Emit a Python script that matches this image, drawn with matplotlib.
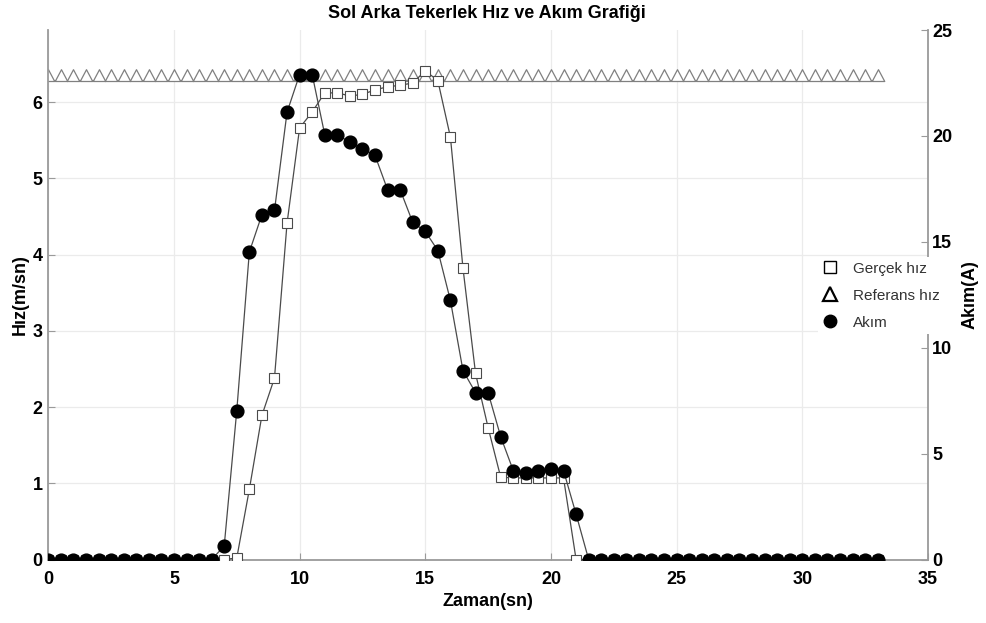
import numpy as np
import matplotlib
matplotlib.use("Agg")
import matplotlib.pyplot as plt
from matplotlib.lines import Line2D

plt.rcParams['font.family'] = ['Liberation Sans', 'DejaVu Sans']

# zaman ekseni (sn)
zaman = [0, 0.5, 1, 1.5, 2, 2.5, 3, 3.5, 4, 4.5, 5, 5.5, 6, 6.5,
         7, 7.5, 8, 8.5, 9, 9.5, 10, 10.5, 11, 11.5, 12, 12.5, 13, 13.5,
         14, 14.5, 15, 15.5, 16, 16.5, 17, 17.5, 18, 18.5, 19, 19.5, 20, 20.5,
         21, 21.5, 22, 22.5, 23, 23.5, 24, 24.5, 25, 25.5, 26, 26.5, 27, 27.5,
         28, 28.5, 29, 29.5, 30, 30.5, 31, 31.5, 32, 32.5, 33]

# gercek hiz (m/sn)
gercek = [0, 0, 0, 0, 0, 0, 0, 0, 0, 0, 0, 0, 0, 0,
          0.0, 0.02, 0.92, 1.89, 2.38, 4.41, 5.66, 5.87, 6.12, 6.12, 6.08, 6.10, 6.16, 6.20,
          6.22, 6.25, 6.41, 6.28, 5.54, 3.82, 2.44, 1.73, 1.08, 1.07, 1.07, 1.07, 1.07, 1.07,
          0.0, 0, 0, 0, 0, 0, 0, 0, 0, 0, 0, 0, 0, 0,
          0, 0, 0, 0, 0, 0, 0, 0, 0, 0, 0]

# akim (A)
akim = [0, 0, 0, 0, 0, 0, 0, 0, 0, 0, 0, 0, 0, 0,
        0.64, 7.03, 14.52, 16.28, 16.48, 21.12, 22.9, 22.9, 20.06, 20.06, 19.70, 19.39, 19.08, 17.46,
        17.46, 15.92, 15.49, 14.59, 12.23, 8.92, 7.88, 7.88, 5.80, 4.20, 4.10, 4.20, 4.28, 4.20,
        2.14, 0, 0, 0, 0, 0, 0, 0, 0, 0, 0, 0, 0, 0,
        0, 0, 0, 0, 0, 0, 0, 0, 0, 0, 0]

# referans hiz (m/sn)
referans = [6.28] * len(zaman)

fig = plt.figure(figsize=(9.87, 6.23), dpi=100)
ax = fig.add_axes([0.0489, 0.1019, 0.8913, 0.8499])
ax2 = ax.twinx()

# ucgen tabani cizgi uzerinde olacak sekilde
tri = [(-0.53, 0), (0, 1), (0.53, 0), (-0.53, 0)]

ax.plot(zaman, referans, color='#8a8a8a', lw=1.4, marker=tri, ms=17,
        mfc='white', mec='#808080', mew=0.9, zorder=2)
ax.plot(zaman, gercek, color='#4a4a4a', lw=0.9, marker='s', ms=6.8,
        mfc='white', mec='#4a4a4a', mew=0.8, zorder=3)
ax2.plot(zaman, akim, color='#4a4a4a', lw=0.9, marker='o', ms=9.2,
         mfc='black', mec='black', zorder=3)

gri = '#9a9a9a'
ax.set_xlim(0, 35)
ax.set_ylim(0, 25 / 3.6)
ax2.set_ylim(0, 25)
ax.set_xticks([0, 5, 10, 15, 20, 25, 30, 35])
ax.set_yticks([0, 1, 2, 3, 4, 5, 6])
ax2.set_yticks([0, 5, 10, 15, 20, 25])
ax.grid(True, color='#ebebeb', lw=0.9)
ax.set_axisbelow(True)

for a in (ax, ax2):
    for s in a.spines.values():
        s.set_visible(False)
ax.spines['left'].set_visible(True)
ax.spines['bottom'].set_visible(True)
ax2.spines['right'].set_visible(True)
for sp in (ax.spines['left'], ax.spines['bottom'], ax2.spines['right']):
    sp.set_color(gri)
    sp.set_linewidth(1.3)

ax.tick_params(axis='x', direction='in', length=5, color=gri, pad=8, labelsize=13)
ax.tick_params(axis='y', direction='in', length=5, color=gri, pad=4, labelsize=13)
ax2.tick_params(axis='y', direction='in', length=5, color=gri, pad=3, labelsize=13)
for lab in ax.get_xticklabels() + ax.get_yticklabels() + ax2.get_yticklabels():
    lab.set_fontweight('bold')

ax.set_xlabel('Zaman(sn)', fontsize=13, fontweight='bold', labelpad=4)
ax.set_ylabel('Hız(m/sn)', fontsize=13, fontweight='bold', labelpad=3)
ax2.set_ylabel('Akım(A)', fontsize=13, fontweight='bold', labelpad=7)
fig.text(0.4935, 0.978, 'Sol Arka Tekerlek Hız ve Akım Grafiği', ha='center', va='center',
         fontsize=13, fontweight='bold')

handles = [
    Line2D([], [], ls='none', marker='s', ms=8, mfc='white', mec='black', mew=1.0),
    Line2D([], [], ls='none', marker='^', ms=10, mfc='white', mec='black', mew=1.6),
    Line2D([], [], ls='none', marker='o', ms=9, mfc='black', mec='black'),
]
leg = ax2.legend(handles, ['Gerçek hız', 'Referans hız', 'Akım'],
                 loc='upper left', bbox_to_anchor=(818 / 987, 1 - 257 / 623),
                 bbox_transform=fig.transFigure, frameon=True, fancybox=False,
                 fontsize=11, handlelength=1.0, handletextpad=1.0, labelspacing=0.85,
                 borderpad=0.3, borderaxespad=0)
leg.get_frame().set_facecolor('white')
leg.get_frame().set_edgecolor('none')
leg.get_frame().set_alpha(1)
for t in leg.get_texts():
    t.set_color('#333333')

fig.savefig('out.png', dpi=100)
